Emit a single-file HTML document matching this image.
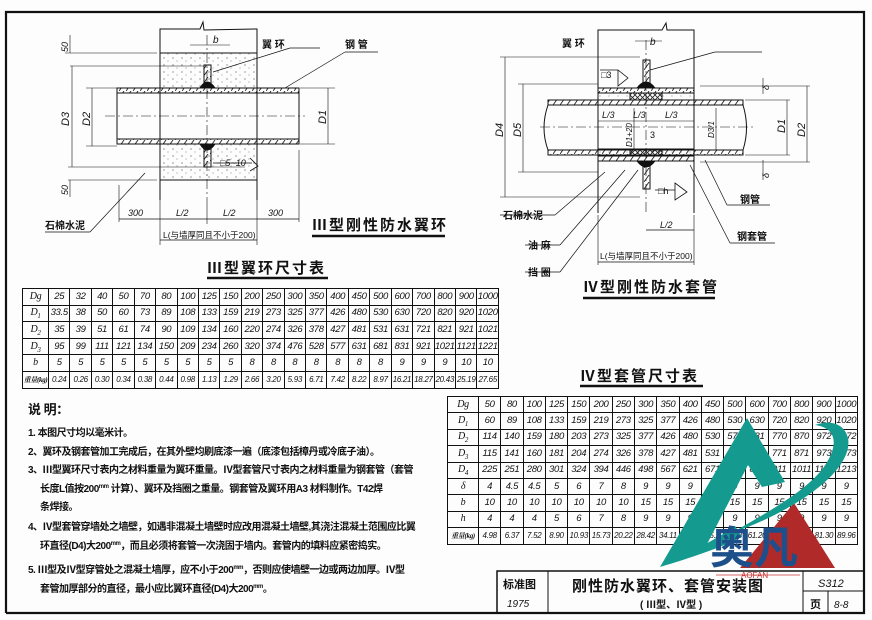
<!DOCTYPE html>
<html><head><meta charset="utf-8">
<style>
html,body{margin:0;padding:0;background:#fff;}
#c{position:relative;width:872px;height:620px;overflow:hidden;background:#fdfdfd;font-family:"Liberation Sans","Noto Sans CJK SC",sans-serif;color:#111;}
table{border-collapse:collapse;table-layout:fixed;position:absolute;}
td{border:1px solid #111;padding:0;text-align:center;font-style:italic;font-size:9.5px;line-height:12px;overflow:hidden;white-space:nowrap;letter-spacing:-0.3px;}
#t1 tr{height:16.6px;} #t2 tr{height:16.4px;}
td.h{font-style:italic;font-family:"Liberation Serif","Noto Serif CJK SC",serif;font-size:10px;}
sub{font-size:7px;line-height:0;}
sup{line-height:0;vertical-align:4px;}
.abs{position:absolute;white-space:nowrap;}
.note{font-family:"Liberation Sans","Noto Sans CJK SC",sans-serif;font-size:10px;font-weight:bold;letter-spacing:-0.5px;line-height:12px;}
</style></head><body><div id="c">
<svg width="872" height="620" style="position:absolute;left:0;top:0" font-family="Liberation Sans, Noto Sans CJK SC, sans-serif">
<defs>
<pattern id="hat" width="7" height="7" patternUnits="userSpaceOnUse"><line x1="0" y1="7" x2="5" y2="0" stroke="#222" stroke-width="0.9"/></pattern>
<pattern id="dot" width="9" height="7" patternUnits="userSpaceOnUse"><circle cx="2" cy="2" r="0.6" fill="#555"/><circle cx="6" cy="5" r="0.5" fill="#666"/></pattern>
<pattern id="xh" width="5" height="5" patternUnits="userSpaceOnUse"><path d="M0 0L5 5M5 0L0 5" stroke="#222" stroke-width="0.8"/></pattern>
</defs>
<path d="M6 613 L6 12 L864 12 L864 613 L6 613" fill="none" stroke="#111" stroke-width="2.2"/>
<g stroke="#111" stroke-width="1" fill="none">
<path d="M160 200 L160 29 L200 29 L203 22 L204 30 L257 29 L257 200"/>
<rect x="160" y="53" width="97" height="35" fill="url(#dot)" stroke="none"/>
<rect x="160" y="144" width="97" height="36" fill="url(#dot)" stroke="none"/>
<line x1="160" y1="53" x2="257" y2="53"/><line x1="160" y1="180" x2="257" y2="180"/>
<rect x="117" y="88" width="182" height="5" fill="url(#hat)"/>
<rect x="117" y="139" width="182" height="5" fill="url(#hat)"/>
<line x1="117" y1="93" x2="117" y2="139"/><line x1="299" y1="93" x2="299" y2="139"/>
<rect x="204" y="65" width="7" height="20" fill="url(#hat)"/>
<rect x="204" y="147" width="7" height="20" fill="url(#hat)"/>
<path d="M200 88 Q207 76 215 88Z" fill="#111"/><path d="M200 144 Q207 156 215 144Z" fill="#111"/>
<line x1="207" y1="35" x2="207" y2="200" stroke-dasharray="10,3,2,3" stroke-width="0.6"/>
<line x1="105" y1="116" x2="305" y2="116" stroke-dasharray="10,3,2,3" stroke-width="0.6"/>
<line x1="65" y1="53" x2="157" y2="53" stroke-width="0.6"/><line x1="70" y1="66" x2="204" y2="66" stroke-width="0.6"/>
<line x1="68" y1="167" x2="245" y2="167" stroke-width="0.6"/><line x1="68" y1="180" x2="157" y2="180" stroke-width="0.6"/>
<line x1="86" y1="88" x2="117" y2="88" stroke-width="0.6"/><line x1="86" y1="146" x2="117" y2="146" stroke-width="0.6"/>
<line x1="72" y1="66" x2="72" y2="167" stroke-width="0.6"/><line x1="92" y1="88" x2="92" y2="146" stroke-width="0.6"/>
<line x1="300" y1="88" x2="335" y2="88" stroke-width="0.6"/><line x1="300" y1="144" x2="335" y2="144" stroke-width="0.6"/>
<line x1="328" y1="88" x2="328" y2="144" stroke-width="0.6"/>
<line x1="70" y1="35" x2="70" y2="53" stroke-width="0.6"/><line x1="70" y1="180" x2="70" y2="197" stroke-width="0.6"/>
<line x1="190" y1="45" x2="230" y2="45" stroke-width="0.6"/>
<path d="M213 163 L252 163 M250 158 L258 166 L250 171" stroke-width="0.8"/>
<line x1="119" y1="185" x2="119" y2="222" stroke-width="0.6"/><line x1="299" y1="150" x2="299" y2="222" stroke-width="0.6"/>
<line x1="119" y1="219" x2="299" y2="219" stroke-width="0.7"/>
<line x1="160" y1="200" x2="160" y2="245" stroke-width="0.6"/><line x1="257" y1="200" x2="257" y2="245" stroke-width="0.6"/>
<line x1="160" y1="240" x2="257" y2="240" stroke-width="0.7"/>
<line x1="207" y1="200" x2="207" y2="224" stroke-width="0.6"/>
<line x1="90" y1="232" x2="145" y2="173" stroke-width="0.7"/><line x1="45" y1="232" x2="90" y2="232" stroke-width="0.7"/>
<line x1="213" y1="72" x2="290" y2="48" stroke-width="0.7"/><line x1="290" y1="48" x2="320" y2="48" stroke-width="0.7"/>
<line x1="285" y1="88" x2="345" y2="52" stroke-width="0.7"/><line x1="345" y1="52" x2="378" y2="52" stroke-width="0.7"/>
<line x1="312" y1="236" x2="445" y2="236" stroke-width="2.5"/>
<line x1="207" y1="278" x2="328" y2="278" stroke-width="2.5"/>
</g>
<g font-size="10" fill="#111">
<text x="213" y="43" font-style="italic">b</text>
<text x="262" y="48" font-weight="bold">翼 环</text>
<text x="345" y="48" font-weight="bold">钢 管</text>
<text x="220" y="166" font-style="italic" font-size="9">□5~10</text>
<text x="128" y="216" font-size="9" font-style="italic">300</text>
<text x="176" y="216" font-size="9" font-style="italic">L/2</text>
<text x="223" y="216" font-size="9" font-style="italic">L/2</text>
<text x="268" y="216" font-size="9" font-style="italic">300</text>
<text x="163" y="238" font-size="8.5">L(与墙厚同且不小于200)</text>
<text x="45" y="229" font-weight="bold">石棉水泥</text>
<text x="312" y="230" font-size="15" font-weight="bold" letter-spacing="2">Ⅲ型刚性防水翼环</text>
<text x="207" y="273" font-size="15" font-weight="bold" letter-spacing="2">Ⅲ型翼环尺寸表</text>
<text transform="translate(68,52) rotate(-90)" font-size="9" font-style="italic">50</text>
<text transform="translate(68,195) rotate(-90)" font-size="9" font-style="italic">50</text>
<text transform="translate(69,126) rotate(-90)" font-size="11" font-style="italic">D3</text>
<text transform="translate(90,126) rotate(-90)" font-size="11" font-style="italic">D2</text>
<text transform="translate(326,124) rotate(-90)" font-size="11" font-style="italic">D1</text>
</g>
<g stroke="#111" stroke-width="1" fill="none">
<path d="M598 213 L598 30 L662 30 L666 23 L667 30 L694 30 L694 213"/>
<rect x="598" y="88" width="96" height="5" fill="url(#hat)"/>
<rect x="598" y="156" width="96" height="5" fill="url(#hat)"/>
<rect x="598" y="93" width="32" height="7" fill="url(#dot)"/><rect x="662" y="93" width="32" height="7" fill="url(#dot)"/>
<rect x="598" y="149" width="32" height="7" fill="url(#dot)"/><rect x="662" y="149" width="32" height="7" fill="url(#dot)"/>
<rect x="630" y="93" width="32" height="7" fill="url(#xh)"/><rect x="630" y="149" width="32" height="7" fill="url(#xh)"/>
<rect x="548" y="100" width="195" height="5" fill="url(#hat)"/>
<rect x="548" y="150" width="195" height="5" fill="url(#hat)"/>
<path d="M548 105 Q540 128 548 150"/><path d="M743 105 Q750 128 743 150"/>
<rect x="643" y="60" width="7" height="26" fill="url(#hat)"/>
<rect x="643" y="163" width="7" height="26" fill="url(#hat)"/>
<path d="M637 88 Q646 76 655 88Z" fill="#111"/><path d="M637 161 Q646 173 655 161Z" fill="#111"/>
<line x1="646" y1="40" x2="646" y2="215" stroke-dasharray="10,3,2,3" stroke-width="0.6"/>
<line x1="540" y1="127" x2="755" y2="127" stroke-dasharray="10,3,2,3" stroke-width="0.6"/>
<line x1="500" y1="57" x2="640" y2="57" stroke-width="0.6"/><line x1="500" y1="197" x2="640" y2="197" stroke-width="0.6"/>
<line x1="505" y1="57" x2="505" y2="197" stroke-width="0.6"/>
<line x1="518" y1="84" x2="598" y2="84" stroke-width="0.6"/><line x1="518" y1="172" x2="598" y2="172" stroke-width="0.6"/>
<line x1="523" y1="84" x2="523" y2="172" stroke-width="0.6"/>
<line x1="700" y1="86" x2="810" y2="86" stroke-width="0.6"/><line x1="700" y1="162" x2="810" y2="162" stroke-width="0.6"/>
<line x1="745" y1="100" x2="790" y2="100" stroke-width="0.6"/><line x1="745" y1="155" x2="790" y2="155" stroke-width="0.6"/>
<line x1="787" y1="100" x2="787" y2="155" stroke-width="0.6"/><line x1="807" y1="86" x2="807" y2="162" stroke-width="0.6"/>
<line x1="763" y1="78" x2="763" y2="94" stroke-width="0.6"/><line x1="763" y1="160" x2="763" y2="180" stroke-width="0.6"/>
<line x1="716" y1="108" x2="716" y2="150" stroke-width="0.6"/>
<line x1="598" y1="121" x2="694" y2="121" stroke-width="0.6"/>
<line x1="634" y1="108" x2="634" y2="150" stroke-width="0.6"/>
<line x1="635" y1="41" x2="662" y2="41" stroke-width="0.6"/>
<path d="M600 70 L618 70 L628 78 L618 86 L618 70" stroke-width="0.8"/>
<path d="M655 190 L675 190 M675 183 L687 192 L675 200Z" stroke-width="0.8"/>
<line x1="646" y1="230" x2="694" y2="230" stroke-width="0.7"/>
<line x1="598" y1="215" x2="598" y2="265" stroke-width="0.6"/><line x1="694" y1="215" x2="694" y2="265" stroke-width="0.6"/>
<line x1="598" y1="262" x2="694" y2="262" stroke-width="0.7"/>
<line x1="650" y1="70" x2="715" y2="52" stroke-width="0.7"/><line x1="715" y1="52" x2="762" y2="52" stroke-width="0.7"/>
<line x1="555" y1="215" x2="605" y2="172" stroke-width="0.7"/><line x1="500" y1="215" x2="555" y2="215" stroke-width="0.7"/>
<line x1="560" y1="245" x2="625" y2="170" stroke-width="0.7"/><line x1="525" y1="245" x2="560" y2="245" stroke-width="0.7"/>
<line x1="560" y1="272" x2="638" y2="170" stroke-width="0.7"/><line x1="525" y1="272" x2="560" y2="272" stroke-width="0.7"/>
<line x1="705" y1="160" x2="727" y2="205" stroke-width="0.7"/><line x1="727" y1="205" x2="770" y2="205" stroke-width="0.7"/>
<line x1="690" y1="165" x2="730" y2="243" stroke-width="0.7"/><line x1="730" y1="243" x2="775" y2="243" stroke-width="0.7"/>
<line x1="583" y1="298" x2="715" y2="298" stroke-width="2.5"/>
<line x1="580" y1="386" x2="703" y2="386" stroke-width="2.5"/>
</g>
<g font-size="10" fill="#111">
<text x="650" y="45" font-style="italic">b</text>
<text x="562" y="47" font-weight="bold">翼 环</text>
<text x="601" y="78" font-size="9">□3</text>
<text x="602" y="118" font-size="9" font-style="italic">L/3</text>
<text x="633" y="118" font-size="9" font-style="italic">L/3</text>
<text x="665" y="118" font-size="9" font-style="italic">L/3</text>
<text x="650" y="138" font-size="9">3</text>
<text x="658" y="194" font-size="9">□h</text>
<text x="660" y="228" font-size="9" font-style="italic">L/2</text>
<text x="600" y="259" font-size="8.5">L(与墙厚同且不小于200)</text>
<text x="740" y="203" font-weight="bold">钢管</text>
<text x="737" y="240" font-weight="bold">钢套管</text>
<text x="503" y="219" font-weight="bold">石棉水泥</text>
<text x="528" y="249" font-weight="bold">油 麻</text>
<text x="528" y="276" font-weight="bold">挡 圈</text>
<text x="583" y="292" font-size="15" font-weight="bold" letter-spacing="2">Ⅳ型刚性防水套管</text>
<text x="580" y="381" font-size="15" font-weight="bold" letter-spacing="2">Ⅳ型套管尺寸表</text>
<text transform="translate(769,90) rotate(-90)" font-size="9" font-style="italic">δ</text>
<text transform="translate(769,178) rotate(-90)" font-size="9" font-style="italic">δ</text>
<text transform="translate(503,137) rotate(-90)" font-size="11" font-style="italic">D4</text>
<text transform="translate(521,137) rotate(-90)" font-size="11" font-style="italic">D5</text>
<text transform="translate(785,133) rotate(-90)" font-size="11" font-style="italic">D1</text>
<text transform="translate(805,137) rotate(-90)" font-size="11" font-style="italic">D2</text>
<text transform="translate(714,138) rotate(-90)" font-size="8" font-style="italic">D3/1</text>
<text transform="translate(632,147) rotate(-90)" font-size="8" font-style="italic">D1+20</text>
</g>
<g stroke="#111" fill="none">
<path d="M497 613 L497 571 L864 571" stroke-width="1.5"/>
<line x1="548" y1="571" x2="548" y2="613" stroke-width="1"/>
<line x1="803" y1="571" x2="803" y2="613" stroke-width="1"/>
<line x1="803" y1="591" x2="864" y2="591" stroke-width="1"/>
<line x1="828" y1="591" x2="828" y2="613" stroke-width="1"/>
</g>
<g fill="#111">
<text x="503" y="588" font-size="11" font-weight="bold">标准图</text>
<text x="507" y="607" font-size="10" font-style="italic">1975</text>
<text x="572" y="591" font-size="15" font-weight="bold" letter-spacing="1">刚性防水翼环、套管安装图</text>
<text x="640" y="608" font-size="10" font-weight="bold">( Ⅲ型、Ⅳ型 )</text>
<text x="818" y="587" font-size="11" font-style="italic">S312</text>
<text x="810" y="608" font-size="11" font-weight="bold">页</text>
<text x="834" y="608" font-size="10" font-style="italic">8-8</text>
</g>
</svg>

<table id="t1" style="left:22px;top:288px;width:477px;">
<colgroup><col style="width:26px"><col span="21"></colgroup>
<tr><td class="h">Dg</td><td>25</td><td>32</td><td>40</td><td>50</td><td>70</td><td>80</td><td>100</td><td>125</td><td>150</td><td>200</td><td>250</td><td>300</td><td>350</td><td>400</td><td>450</td><td>500</td><td>600</td><td>700</td><td>800</td><td>900</td><td>1000</td></tr>
<tr><td class="h">D<sub>1</sub></td><td>33.5</td><td>38</td><td>50</td><td>60</td><td>73</td><td>89</td><td>108</td><td>133</td><td>159</td><td>219</td><td>273</td><td>325</td><td>377</td><td>426</td><td>480</td><td>530</td><td>630</td><td>720</td><td>820</td><td>920</td><td>1020</td></tr>
<tr><td class="h">D<sub>2</sub></td><td>35</td><td>39</td><td>51</td><td>61</td><td>74</td><td>90</td><td>109</td><td>134</td><td>160</td><td>220</td><td>274</td><td>326</td><td>378</td><td>427</td><td>481</td><td>531</td><td>631</td><td>721</td><td>821</td><td>921</td><td>1021</td></tr>
<tr><td class="h">D<sub>3</sub></td><td>95</td><td>99</td><td>111</td><td>121</td><td>134</td><td>150</td><td>209</td><td>234</td><td>260</td><td>320</td><td>374</td><td>476</td><td>528</td><td>577</td><td>631</td><td>681</td><td>831</td><td>921</td><td>1021</td><td>1121</td><td>1221</td></tr>
<tr><td class="h">b</td><td>5</td><td>5</td><td>5</td><td>5</td><td>5</td><td>5</td><td>5</td><td>5</td><td>5</td><td>8</td><td>8</td><td>8</td><td>8</td><td>8</td><td>8</td><td>8</td><td>9</td><td>9</td><td>9</td><td>10</td><td>10</td></tr>
<tr><td class="h" style="font-size:7px;font-weight:bold">重量(kg)</td><td style="font-size:8px">0.24</td><td style="font-size:8px">0.26</td><td style="font-size:8px">0.30</td><td style="font-size:8px">0.34</td><td style="font-size:8px">0.38</td><td style="font-size:8px">0.44</td><td style="font-size:8px">0.98</td><td style="font-size:8px">1.13</td><td style="font-size:8px">1.29</td><td style="font-size:8px">2.66</td><td style="font-size:8px">3.20</td><td style="font-size:8px">5.93</td><td style="font-size:8px">6.71</td><td style="font-size:8px">7.42</td><td style="font-size:8px">8.22</td><td style="font-size:8px">8.97</td><td style="font-size:8px">16.21</td><td style="font-size:8px">18.27</td><td style="font-size:8px">20.43</td><td style="font-size:8px">25.19</td><td style="font-size:8px">27.65</td></tr>
</table>

<table id="t2" style="left:447px;top:396px;width:411px;">
<colgroup><col style="width:31px"><col span="17"></colgroup>
<tr><td class="h">Dg</td><td>50</td><td>80</td><td>100</td><td>125</td><td>150</td><td>200</td><td>250</td><td>300</td><td>350</td><td>400</td><td>450</td><td>500</td><td>600</td><td>700</td><td>800</td><td>900</td><td>1000</td></tr>
<tr><td class="h">D<sub>1</sub></td><td>60</td><td>89</td><td>108</td><td>133</td><td>159</td><td>219</td><td>273</td><td>325</td><td>377</td><td>426</td><td>480</td><td>530</td><td>630</td><td>720</td><td>820</td><td>920</td><td>1020</td></tr>
<tr><td class="h">D<sub>2</sub></td><td>114</td><td>140</td><td>159</td><td>180</td><td>203</td><td>273</td><td>325</td><td>377</td><td>426</td><td>480</td><td>530</td><td>579</td><td>681</td><td>770</td><td>870</td><td>972</td><td>1072</td></tr>
<tr><td class="h">D<sub>3</sub></td><td>115</td><td>141</td><td>160</td><td>181</td><td>204</td><td>274</td><td>326</td><td>378</td><td>427</td><td>481</td><td>531</td><td>580</td><td>682</td><td>771</td><td>871</td><td>973</td><td>1073</td></tr>
<tr><td class="h">D<sub>4</sub></td><td>225</td><td>251</td><td>280</td><td>301</td><td>324</td><td>394</td><td>446</td><td>498</td><td>567</td><td>621</td><td>671</td><td>730</td><td>841</td><td>911</td><td>1011</td><td>1113</td><td>1213</td></tr>
<tr><td class="h">δ</td><td>4</td><td>4.5</td><td>4.5</td><td>5</td><td>6</td><td>7</td><td>8</td><td>9</td><td>9</td><td>9</td><td>9</td><td>9</td><td>9</td><td>9</td><td>9</td><td>9</td><td>9</td></tr>
<tr><td class="h">b</td><td>10</td><td>10</td><td>10</td><td>10</td><td>10</td><td>10</td><td>10</td><td>15</td><td>15</td><td>15</td><td>15</td><td>15</td><td>15</td><td>15</td><td>15</td><td>15</td><td>15</td></tr>
<tr><td class="h">h</td><td>4</td><td>4</td><td>4</td><td>5</td><td>6</td><td>7</td><td>8</td><td>9</td><td>9</td><td>9</td><td>9</td><td>9</td><td>9</td><td>9</td><td>9</td><td>9</td><td>9</td></tr>
<tr><td class="h" style="font-size:7px;font-weight:bold">重量(kg)</td><td style="font-size:8px">4.98</td><td style="font-size:8px">6.37</td><td style="font-size:8px">7.52</td><td style="font-size:8px">8.90</td><td style="font-size:8px">10.93</td><td style="font-size:8px">15.73</td><td style="font-size:8px">20.22</td><td style="font-size:8px">28.42</td><td style="font-size:8px">34.11</td><td style="font-size:8px">40.6</td><td style="font-size:8px">45.2</td><td style="font-size:8px">48.8</td><td style="font-size:8px">61.20</td><td style="font-size:8px">65.9</td><td style="font-size:8px">74.1</td><td style="font-size:8px">81.30</td><td style="font-size:8px">89.96</td></tr>
</table>

<div class="abs note" style="left:28px;top:404px;font-size:13px;">说 明：</div>
<div class="abs note" style="left:28px;top:428px;">1. 本图尺寸均以毫米计。</div>
<div class="abs note" style="left:28px;top:447px;">2、翼环及钢套管加工完成后，在其外壁均刷底漆一遍（底漆包括樟丹或冷底子油）。</div>
<div class="abs note" style="left:28px;top:465px;">3、Ⅲ型翼环尺寸表内之材料重量为翼环重量。Ⅳ型套管尺寸表内之材料重量为钢套管（套管</div>
<div class="abs note" style="left:40px;top:484px;">长度L值按200<sup style="font-size:6px">mm</sup> 计算）、翼环及挡圈之重量。钢套管及翼环用A3 材料制作。T42焊</div>
<div class="abs note" style="left:40px;top:502px;">条焊接。</div>
<div class="abs note" style="left:28px;top:522px;">4、Ⅳ型套管穿墙处之墙壁，如遇非混凝土墙壁时应改用混凝土墙壁,其浇注混凝土范围应比翼</div>
<div class="abs note" style="left:40px;top:541px;">环直径(D4)大200<sup style="font-size:6px">mm</sup>，而且必须将套管一次浇固于墙内。套管内的填料应紧密捣实。</div>
<div class="abs note" style="left:28px;top:565px;">5. Ⅲ型及Ⅳ型穿管处之混凝土墙厚，应不小于200<sup style="font-size:6px">mm</sup>，否则应使墙壁一边或两边加厚。Ⅳ型</div>
<div class="abs note" style="left:40px;top:584px;">套管加厚部分的直径，最小应比翼环直径(D4)大200<sup style="font-size:6px">mm</sup>。</div>

<svg width="872" height="620" style="position:absolute;left:0;top:0">
<polygon points="794,503 740,568 835,568" fill="#b02a2a"/>
<path d="M660,567 L747,418 L785,482 L762,487 L748,465 L705,548 Z" fill="#149a8f"/>
<path d="M732,533 C792,512 854,472 848,438 C844,422 828,420 815,425 C838,428 840,447 820,472 C798,497 758,517 732,533 Z" fill="#149a8f"/>
<path d="M660,567 C690,558 720,548 742,537 L735,526 C715,540 690,553 660,567Z" fill="#149a8f"/>
<text x="710" y="563" font-family="Noto Sans CJK SC, sans-serif" font-size="44" font-weight="bold" fill="#1d4f8a">奥凡</text>
<line x1="716" y1="575" x2="800" y2="575" stroke="#c33" stroke-width="0.8"/>
<text x="741" y="578" font-family="Liberation Sans, sans-serif" font-size="8" fill="#c33">AOFAN</text>
</svg>
</div></body></html>
